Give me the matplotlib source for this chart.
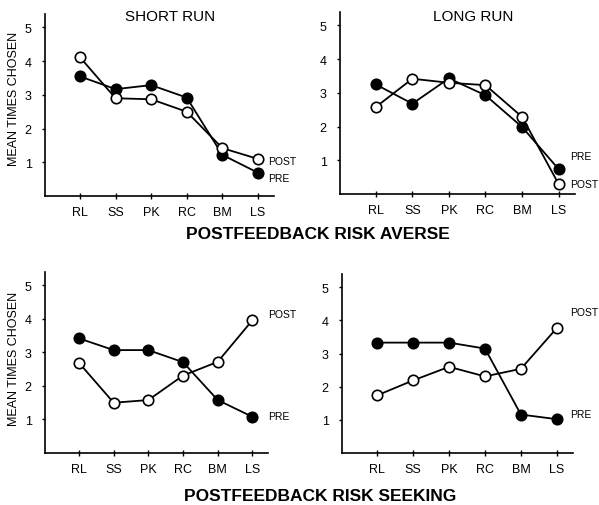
import matplotlib
matplotlib.use('Agg')
import matplotlib.pyplot as plt

# response categories on the x axis
categories = ['RL', 'SS', 'PK', 'RC', 'BM', 'LS']

# postfeedback risk averse
averse_short_pre = [3.55, 3.17, 3.29, 2.92, 1.22, 0.69]
averse_short_post = [4.12, 2.90, 2.87, 2.50, 1.42, 1.10]
averse_long_pre = [3.25, 2.68, 3.43, 2.93, 1.99, 0.74]
averse_long_post = [2.58, 3.42, 3.30, 3.23, 2.29, 0.30]

# postfeedback risk seeking
seeking_short_pre = [3.42, 3.07, 3.07, 2.71, 1.58, 1.08]
seeking_short_post = [2.69, 1.50, 1.58, 2.31, 2.72, 3.96]
seeking_long_pre = [3.33, 3.33, 3.33, 3.15, 1.16, 1.02]
seeking_long_post = [1.74, 2.19, 2.60, 2.31, 2.54, 3.77]

yticks = [1, 2, 3, 4, 5]

W, H = 599, 506
plt.rcParams['font.family'] = ['Liberation Sans', 'DejaVu Sans']

fig = plt.figure(figsize=(W / 100, H / 100), dpi=100)


def box(left, right, top, bottom):
    # pixel box -> figure fraction rect
    return [left / W, 1 - bottom / H, (right - left) / W, (bottom - top) / H]


def fxy(x, y):
    return x / W, 1 - y / H


def draw(rect, pre, post):
    ax = fig.add_axes(rect)
    xs = range(1, len(categories) + 1)
    ax.plot(xs, pre, color='black', lw=1.3, marker='o', ms=7.5,
            mfc='black', mec='black', mew=1.2, zorder=3, clip_on=False)
    ax.plot(xs, post, color='black', lw=1.3, marker='o', ms=7.5,
            mfc='white', mec='black', mew=1.2, zorder=4, clip_on=False)
    ax.set_xlim(0.02, 6.45)
    ax.set_ylim(0, 5.4)
    ax.set_xticks(list(xs))
    ax.set_xticklabels(categories)
    ax.set_yticks(yticks)
    ax.set_yticklabels([str(v) for v in yticks])
    for side in ['top', 'right']:
        ax.spines[side].set_visible(False)
    for side in ['left', 'bottom']:
        ax.spines[side].set_linewidth(1.2)
    ax.tick_params(axis='x', direction='inout', length=4, width=1, pad=5, labelsize=9)
    ax.tick_params(axis='y', direction='out', length=2.5, width=1, pad=7, labelsize=9)
    ax.patch.set_visible(False)
    return ax


draw(box(45, 274, 15, 197), averse_short_pre, averse_short_post)
draw(box(340, 575, 13, 195), averse_long_pre, averse_long_post)
draw(box(45, 268, 273, 454), seeking_short_pre, seeking_short_post)
draw(box(342, 573, 275, 454), seeking_long_pre, seeking_long_post)

# panel titles
fig.text(*fxy(170, 17), 'SHORT RUN', fontsize=11, ha='center', va='center')
fig.text(*fxy(473, 17), 'LONG RUN', fontsize=11, ha='center', va='center')
fig.text(*fxy(318, 235), 'POSTFEEDBACK RISK AVERSE', fontsize=12.5,
         fontweight='bold', ha='center', va='center')
fig.text(*fxy(320, 497), 'POSTFEEDBACK RISK SEEKING', fontsize=12.5,
         fontweight='bold', ha='center', va='center')

# y labels
fig.text(*fxy(14, 99), 'MEAN TIMES CHOSEN', fontsize=9, rotation=90,
         ha='center', va='center')
fig.text(*fxy(14, 359), 'MEAN TIMES CHOSEN', fontsize=9, rotation=90,
         ha='center', va='center')

# series labels
series_labels = [
    ('POST', 268, 162), ('PRE', 268, 179),
    ('PRE', 570, 157), ('POST', 570, 185),
    ('POST', 268, 315), ('PRE', 268, 417),
    ('POST', 570, 313), ('PRE', 570, 415),
]
for txt, x, y in series_labels:
    fig.text(*fxy(x, y), txt, fontsize=7.5, ha='left', va='center')

fig.savefig('out.png', dpi=100)
